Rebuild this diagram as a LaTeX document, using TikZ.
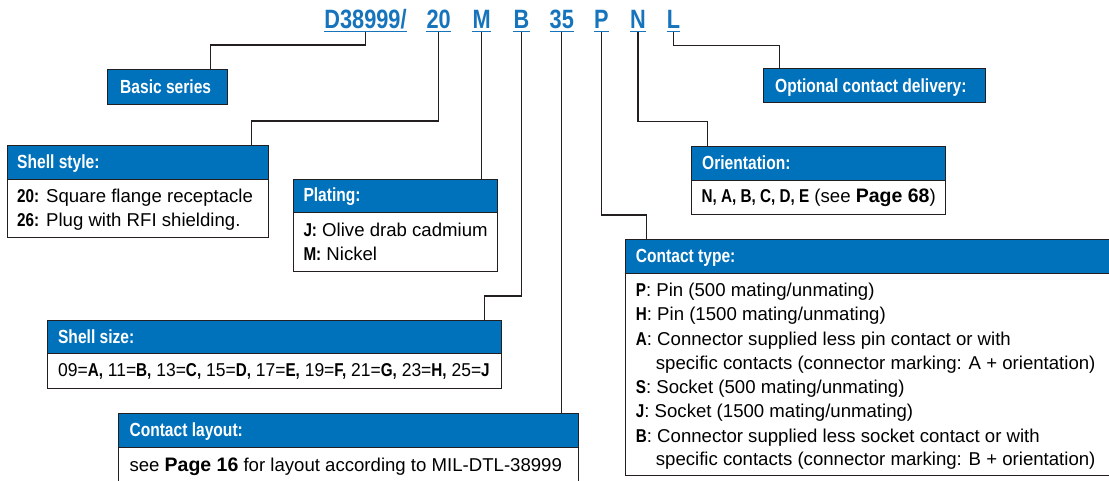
\documentclass[tikz,border=0pt]{standalone}
\usepackage{fontspec}
\setmainfont{Liberation Sans}
\newfontfamily\condfont[FakeStretch=0.82]{Liberation Sans}
\newfontfamily\narrowfont[FakeStretch=0.94]{Liberation Sans}
\definecolor{hblue}{RGB}{0,113,187}
\definecolor{cblue}{RGB}{22,116,188}
\definecolor{lnk}{RGB}{35,31,32}
\newcommand{\cbold}[1]{{\condfont\bfseries #1}}
\newcommand{\pbold}[1]{{\bfseries\fontsize{19.5}{24}\selectfont #1}}
\begin{document}
\begin{tikzpicture}[x=1pt,y=-1pt,
  hdr/.style={draw=lnk, line width=1.3pt, fill=hblue, inner sep=0, anchor=north west},
  bodybox/.style={draw=lnk, line width=1.3pt, fill=white, inner sep=0, anchor=north west},
  htxt/.style={text=white, inner sep=0, anchor=base west, font=\condfont\bfseries\fontsize{19}{22}\selectfont},
  btxt/.style={text=black, inner sep=0, anchor=base west, font=\fontsize{18.6}{24}\selectfont},
  code/.style={text=cblue, inner sep=0, anchor=base, font=\condfont\bfseries\fontsize{26.5}{30}\selectfont},
  ul/.style={draw=cblue, line width=1.4pt},
  conn/.style={draw=lnk, line width=1.3pt},
]
\useasboundingbox (0,0) rectangle (1109,481);
\fill[white] (0,0) rectangle (1109,481);

% part number codes
\node[code] (c1) at (365.5,29) {D38999/};
\node[code] (c2) at (438.7,29) {20};
\node[code] (c3) at (481.7,29) {M};
\node[code] (c4) at (521.5,29) {B};
\node[code] (c5) at (561.8,29) {35};
\node[code] (c6) at (601.3,29) {P};
\node[code] (c7) at (638,29) {N};
\node[code] (c8) at (673.5,29) {L};
\foreach \n in {c1,c2,c3,c4,c5,c6,c7,c8}
  \draw[ul] ([yshift=-2.5pt]\n.base west) -- ([yshift=-2.5pt]\n.base east);

% Basic series
\node[hdr, minimum width=120pt, minimum height=35pt] (basic) at (107,69) {};
\node[htxt] (basict) at (120,94) {Basic series};

% Optional contact delivery
\node[hdr, minimum width=222pt, minimum height=34pt] (opt) at (763,68) {};
\node[htxt] (optt) at (775,92.7) {Optional contact delivery:};

% Shell style
\node[hdr, minimum width=261pt, minimum height=34pt] (shellH) at (7,145) {};
\node[bodybox, minimum width=261pt, minimum height=58pt] (shellB) at (7,179) {};
\node[htxt] (shellt) at (17,169) {Shell style:};
\node[btxt] (shell1) at (17,202.7) {\cbold{20:} Square flange receptacle};
\node[btxt] (shell2) at (17,226.7) {\cbold{26:} Plug with RFI shielding.};

% Plating
\node[hdr, minimum width=204pt, minimum height=33pt] (platH) at (293,179) {};
\node[bodybox, minimum width=204pt, minimum height=59pt] (platB) at (293,212) {};
\node[htxt] (platt) at (303.3,201.7) {Plating:};
\node[btxt] (plat1) at (303.3,236.7) {\cbold{J:} Olive drab cadmium};
\node[btxt] (plat2) at (303.3,260.7) {\cbold{M:} Nickel};

% Shell size
\node[hdr, minimum width=454pt, minimum height=33pt] (sizeH) at (47,320) {};
\node[bodybox, minimum width=454pt, minimum height=35pt] (sizeB) at (47,353) {};
\node[htxt] (sizet) at (57.9,343.5) {Shell size:};
\node[btxt, font=\narrowfont\fontsize{18.6}{24}\selectfont] (size1) at (57.9,376.7)
  {09=\cbold{A,} 11=\cbold{B,} 13=\cbold{C,} 15=\cbold{D,} 17=\cbold{E,} 19=\cbold{F,} 21=\cbold{G,} 23=\cbold{H,} 25=\cbold{J}};

% Contact layout
\node[hdr, minimum width=460pt, minimum height=34pt] (layH) at (118,413) {};
\node[bodybox, minimum width=460pt, minimum height=33.5pt] (layB) at (118,447) {};
\node[htxt] (layt) at (129.3,436.5) {Contact layout:};
\node[btxt] (lay1) at (129.3,471.7) {see \pbold{Page 16} for layout according to MIL-DTL-38999};

% Orientation
\node[hdr, minimum width=254pt, minimum height=34pt] (oriH) at (691,146) {};
\node[bodybox, minimum width=254pt, minimum height=34pt] (oriB) at (691,180) {};
\node[htxt] (orit) at (702,169.8) {Orientation:};
\node[btxt] (ori1) at (701.5,202.7) {\cbold{N, A, B, C, D, E} (see \pbold{Page 68})};

% Contact type
\node[hdr, minimum width=495pt, minimum height=34pt] (typH) at (625,239) {};
\node[bodybox, minimum width=495pt, minimum height=202pt] (typB) at (625,273) {};
\node[htxt] (typt) at (635.7,262.5) {Contact type:};
\node[btxt] (typ1) at (635.7,296.7) {\cbold{P}: Pin (500 mating/unmating)};
\node[btxt] (typ2) at (635.7,320.7) {\cbold{H}: Pin (1500 mating/unmating)};
\node[btxt] (typ3) at (635.7,345) {\cbold{A}: Connector supplied less pin contact or with};
\node[btxt] (typ4) at (655.7,369) {specific contacts (connector marking: A + orientation)};
\node[btxt] (typ5) at (635.7,393.3) {\cbold{S}: Socket (500 mating/unmating)};
\node[btxt] (typ6) at (635.7,417.3) {\cbold{J}: Socket (1500 mating/unmating)};
\node[btxt] (typ7) at (635.7,442) {\cbold{B}: Connector supplied less socket contact or with};
\node[btxt] (typ8) at (655.7,465.7) {specific contacts (connector marking: B + orientation)};

% connectors
\draw[conn] ([yshift=-3pt]c1.base) |- ([xshift=103.5pt,yshift=24pt]basic.north west) -- ([xshift=103.5pt]basic.north west);
\draw[conn] ([yshift=-3pt]c2.base) |- ([xshift=244.7pt,yshift=24pt]shellH.north west) -- ([xshift=244.7pt]shellH.north west);
\draw[conn] ([yshift=-3pt]c3.base) -- (c3.base |- platH.north);
\draw[conn] ([yshift=-3pt]c4.base) |- ([xshift=437.6pt,yshift=24pt]sizeH.north west) -- ([xshift=437.6pt]sizeH.north west);
\draw[conn] ([yshift=-3pt]c5.base) -- (c5.base |- layH.north);
\draw[conn] ([yshift=-3pt]c6.base) |- ([xshift=21.5pt,yshift=24pt]typH.north west) -- ([xshift=21.5pt]typH.north west);
\draw[conn] ([yshift=-3pt]c7.base) |- ([xshift=16.5pt,yshift=24.3pt]oriH.north west) -- ([xshift=16.5pt]oriH.north west);
\draw[conn] ([yshift=-3pt]c8.base) |- ([xshift=16.7pt,yshift=22.3pt]opt.north west) -- ([xshift=16.7pt]opt.north west);
\end{tikzpicture}
\end{document}
